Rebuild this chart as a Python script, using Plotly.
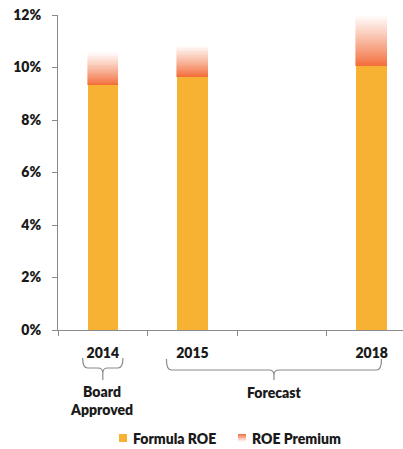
import plotly.graph_objects as go

# Return-on-equity components by year (fractions)
years = ["2014", "2015", "2018"]
formula_roe = [0.0933, 0.0965, 0.1006]
roe_premium = [0.0125, 0.0120, 0.0195]

# Category slots along the x axis (one empty slot between 2015 and 2018)
slots = ["2014", "2015", " ", "2018"]
series_names = ["Formula ROE", "ROE Premium"]

FONT = "Lato"
WEIGHT = 800
INK = "#1a1a1a"
AXIS = "#8a8a8a"
FORMULA_COLOR = (247, 178, 51)
PREMIUM_COLOR = (242, 107, 56)
N_STEPS = 40
BAR_W = 0.34

W, H = 403, 449
M_L, M_R, M_T, M_B = 58, 0, 15, 119
X_RANGE = [-0.5, 3.35]


def blend(rgb, t):
    """Mix colour with white; t=0 is full colour, t=1 is white."""
    r, g, b = (round(c + (255 - c) * t) for c in rgb)
    return f"rgb({r},{g},{b})"


fig = go.Figure()

fig.add_trace(go.Bar(
    x=years, y=formula_roe, name=series_names[0],
    marker=dict(color=blend(FORMULA_COLOR, 0), line=dict(width=0)),
    width=BAR_W, showlegend=False, hoverinfo="skip",
))

# Premium drawn as a stack of thin slices fading from orange to white
for k in range(N_STEPS):
    t = (k + 0.5) / N_STEPS
    col = blend(PREMIUM_COLOR, t ** 0.9)
    fig.add_trace(go.Bar(
        x=years, y=[p / N_STEPS for p in roe_premium], name=series_names[1],
        marker=dict(color=col, line=dict(width=0.6, color=col)),
        width=BAR_W, showlegend=False, hoverinfo="skip",
    ))

plot_w = W - M_L - M_R
plot_h = H - M_T - M_B


def xp(idx):
    return (idx - X_RANGE[0]) / (X_RANGE[1] - X_RANGE[0])


def xpix(px):
    return (px - M_L) / plot_w


def yp(py):
    return (H - M_B - py) / plot_h


def brace(x0, x1, cx, top, mid, bot, r=5):
    """Curly brace path (x in category units, y in pixels) as paper coords."""
    rx = r / plot_w * (X_RANGE[1] - X_RANGE[0])
    pts = []
    for a, s in ((x0, 1), (x1, -1)):
        pts.append(
            f"M {xp(a)},{yp(top)} Q {xp(a)},{yp(mid)} {xp(a + s * rx)},{yp(mid)} "
            f"L {xp(cx - s * rx)},{yp(mid)} Q {xp(cx)},{yp(mid)} {xp(cx)},{yp(mid + r)} "
            f"L {xp(cx)},{yp(bot)}"
        )
    return " ".join(pts)


shapes = [
    dict(type="path", xref="paper", yref="paper",
         path=brace(-0.225, 0.225, 0.0, 358, 368, 380),
         line=dict(color=AXIS, width=1.2)),
    dict(type="path", xref="paper", yref="paper",
         path=brace(0.71, 3.11, 1.91, 359, 370, 380),
         line=dict(color=AXIS, width=1.2)),
]

bold = dict(family=FONT, size=14, color=INK, weight=WEIGHT)
annotations = [
    dict(text="Board<br>Approved", xref="paper", yref="paper",
         x=xp(-0.02), y=yp(381), xanchor="center", yanchor="top",
         showarrow=False, font=bold),
    dict(text="Forecast", xref="paper", yref="paper",
         x=xp(1.91), y=yp(382), xanchor="center", yanchor="top",
         showarrow=False, font=bold),
]

# Legend row: small swatches with labels beneath the chart
SW = 8
LEG_Y = 438
legend_items = [(119, "formula"), (238, "premium")]
for (x0, kind), label in zip(legend_items, series_names):
    if kind == "formula":
        shapes.append(dict(type="rect", xref="paper", yref="paper",
                           x0=xpix(x0), x1=xpix(x0 + SW),
                           y0=yp(LEG_Y - SW / 2), y1=yp(LEG_Y + SW / 2),
                           fillcolor=blend(FORMULA_COLOR, 0), line=dict(width=0)))
    else:
        n = 8
        for k in range(n):
            t = 1 - (k + 0.5) / n
            shapes.append(dict(type="rect", xref="paper", yref="paper",
                               x0=xpix(x0), x1=xpix(x0 + SW),
                               y0=yp(LEG_Y + SW / 2 - k * SW / n),
                               y1=yp(LEG_Y + SW / 2 - (k + 1) * SW / n),
                               fillcolor=blend(PREMIUM_COLOR, t ** 0.9),
                               line=dict(width=0)))
    annotations.append(dict(text=label, xref="paper", yref="paper",
                            x=xpix(x0 + SW + 4), y=yp(LEG_Y), xanchor="left",
                            yanchor="middle", showarrow=False,
                            font=dict(family=FONT, size=14, color=INK, weight=WEIGHT)))

fig.update_layout(
    width=W, height=H,
    margin=dict(l=M_L, r=M_R, t=M_T, b=M_B),
    paper_bgcolor="white", plot_bgcolor="white",
    barmode="stack", bargap=0,
    font=dict(family=FONT, size=14, color=INK, weight=WEIGHT),
    showlegend=False,
    shapes=shapes, annotations=annotations,
)

fig.update_xaxes(
    type="category", categoryorder="array", categoryarray=slots,
    range=X_RANGE, showline=True, linecolor=AXIS, linewidth=1,
    ticks="outside", tickson="boundaries", ticklen=5, tickcolor=AXIS,
    ticklabelstandoff=10, showgrid=False, zeroline=False, fixedrange=True,
)
fig.update_yaxes(
    range=[0, 0.12], dtick=0.02, tickformat=".0%",
    showline=True, linecolor=AXIS, linewidth=1,
    ticks="outside", ticklen=5, tickcolor=AXIS, ticklabelstandoff=8,
    showgrid=False, zeroline=False, fixedrange=True,
)

fig.write_html("out.html")
